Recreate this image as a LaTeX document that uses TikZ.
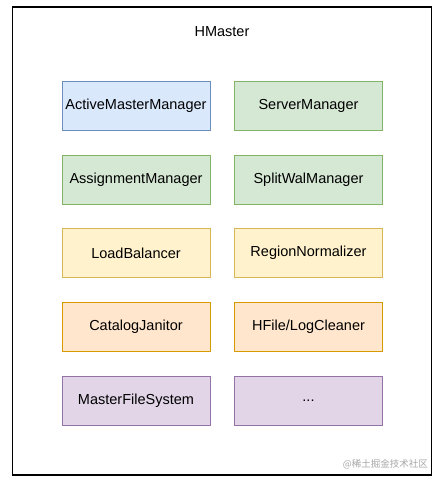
\documentclass[tikz,border=0pt]{standalone}
\usepackage{fontspec}
\setmainfont{Liberation Sans}
\newfontfamily\cjk{Noto Sans CJK SC}
\definecolor{bluefill}{HTML}{DAE8FC}\definecolor{bluedraw}{HTML}{6C8EBF}
\definecolor{greenfill}{HTML}{D5E8D4}\definecolor{greendraw}{HTML}{82B366}
\definecolor{yellowfill}{HTML}{FFF2CC}\definecolor{yellowdraw}{HTML}{D6B656}
\definecolor{orangefill}{HTML}{FFE6CC}\definecolor{orangedraw}{HTML}{D79B00}
\definecolor{purplefill}{HTML}{E1D5E7}\definecolor{purpledraw}{HTML}{9673A6}
\begin{document}
\begin{tikzpicture}[x=1pt,y=-1pt,
  comp/.style={draw, line width=0.9pt, minimum width=148pt, minimum height=49pt, inner sep=0pt, font=\fontsize{14.5}{16}\selectfont},
  blue/.style={comp, fill=bluefill, draw=bluedraw},
  green/.style={comp, fill=greenfill, draw=greendraw},
  yellow/.style={comp, fill=yellowfill, draw=yellowdraw},
  orange/.style={comp, fill=orangefill, draw=orangedraw},
  purple/.style={comp, fill=purplefill, draw=purpledraw}]
\useasboundingbox (0,0) rectangle (442,483);
\node[draw, line width=1.2pt, minimum width=419pt, minimum height=468pt, inner sep=0pt] (hm) at (222,241) {};
\node[font=\fontsize{14.5}{16}\selectfont] (title) at (222,32) {HMaster};
\node[blue] (amm) at (136,105.5) {ActiveMasterManager};
\node[green] (sm) at (308.5,105.5) {ServerManager};
\node[green] (am) at (136,179.5) {AssignmentManager};
\node[green] (swm) at (308.5,179.5) {SplitWalManager};
\node[yellow] (lb) at (136,253) {LoadBalancer};
\node[yellow] (rn) at (308.5,253) {RegionNormalizer};
\node[orange] (cj) at (136,327) {CatalogJanitor};
\node[orange] (hf) at (308.5,327) {HFile/LogCleaner};
\node[purple] (mfs) at (136,401) {MasterFileSystem};
\node[purple] (etc) at (308.5,401) {...};
\node[anchor=east, text=gray!70, inner sep=0pt, font=\cjk\fontsize{9.5}{11}\selectfont] (wm) at (428,464) {@稀土掘金技术社区};
\end{tikzpicture}
\end{document}
